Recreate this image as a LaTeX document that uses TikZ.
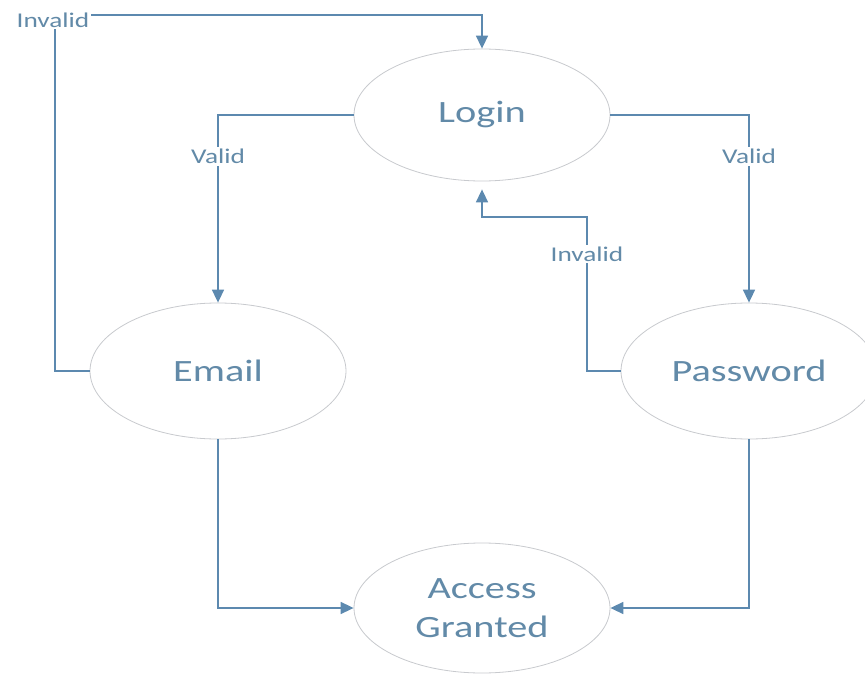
\documentclass[tikz,border=0pt]{standalone}
\usepackage{fontspec}
\setmainfont[FakeStretch=1.3]{Carlito}
\usetikzlibrary{shapes.geometric, arrows.meta}

\definecolor{linecol}{RGB}{92,137,175}
\definecolor{textcol}{RGB}{98,138,168}
\definecolor{ellcol}{RGB}{200,202,206}

\tikzset{
  state/.style = {ellipse, draw = ellcol, line width = 0.8pt, fill = white,
    minimum width = 256pt, minimum height = 132pt, inner sep = 0pt,
    text = textcol, align = center, font = \fontsize{31}{39}\selectfont},
  conn/.style = {draw = linecol, line width = 1.6pt,
    -{Triangle[length = 13pt, width = 12pt]}},
  lbl/.style = {fill = white, text = textcol, inner sep = 2pt,
    font = \fontsize{21}{25}\selectfont}
}

\begin{document}
\begin{tikzpicture}[x = 1pt, y = -1pt]
	\useasboundingbox (0, 0) rectangle (865, 682);
	% Nodes
	\node[state] (login) at (482, 115) {Login};
	\node[state, minimum height = 136pt] (email) at (218, 371) {Email};
	\node[state, minimum height = 136pt] (pw) at (749, 371) {Password};
	\node[state, minimum height = 130pt] (access) at (482, 608) {Access\\Granted};
	
	% Corners
	\coordinate (tl) at (55, 15);
	\coordinate (mid) at (587, 217);
	
	% Edges
	\draw[conn] (login.west) -| node[lbl, pos = 0.61] {Valid} (email.north);
	\draw[conn] (login.east) -| node[lbl, pos = 0.61] {Valid} (pw.north);
	\draw[conn, shorten > = 8pt] (pw.west) -| node[lbl, pos = 0.88] {Invalid} (mid) -| (login.south);
	\draw[conn] (email.west) -| (tl) -| (login.north);
	\node[lbl] (inv) at (53, 20) {Invalid};
	\draw[conn] (email.south) |- (access.west);
	\draw[conn] (pw.south) |- (access.east);
\end{tikzpicture}
\end{document}
